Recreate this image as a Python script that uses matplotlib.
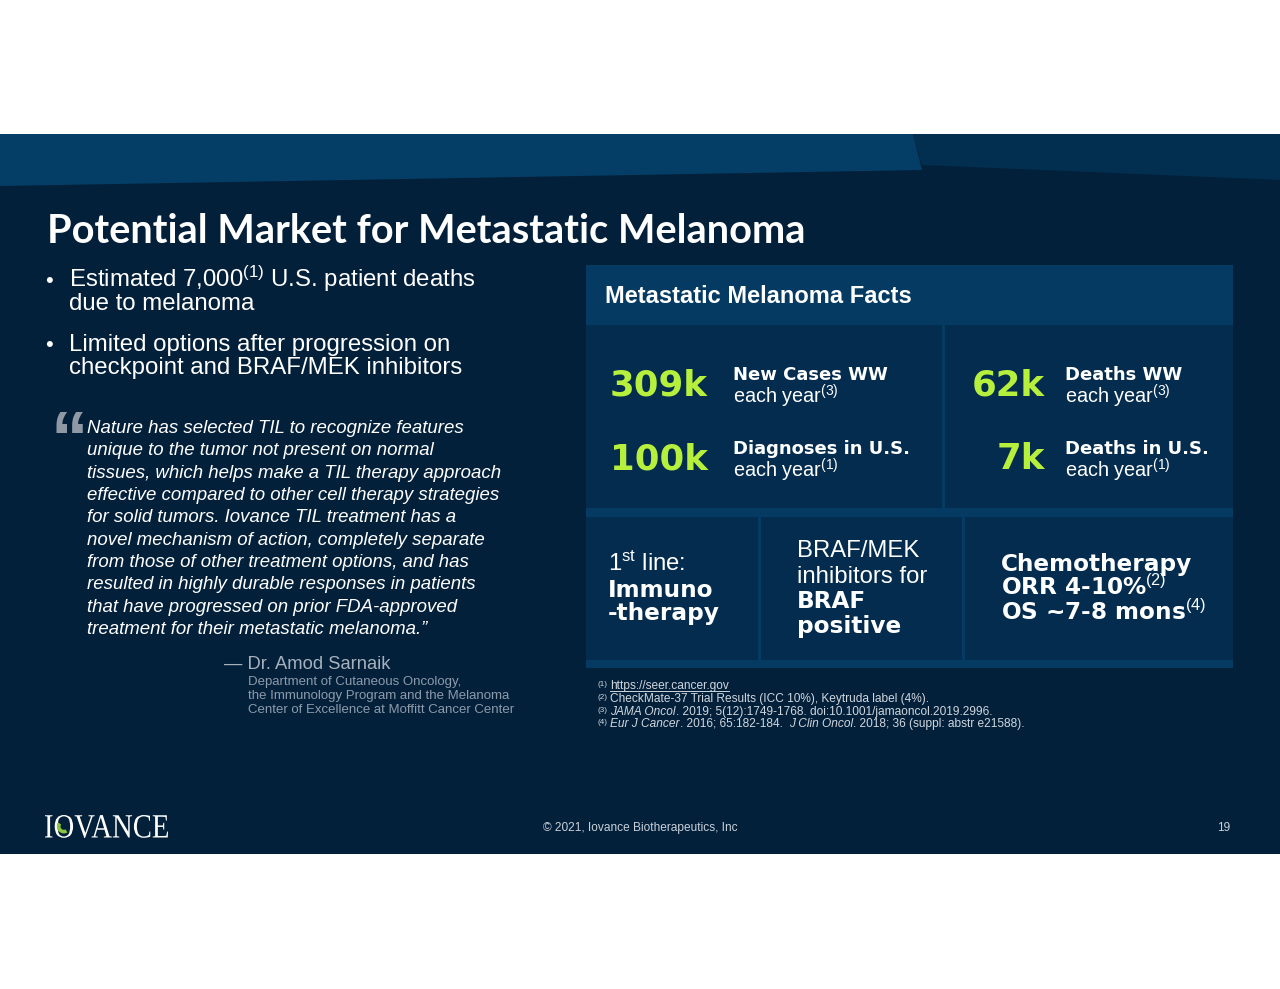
import matplotlib
matplotlib.use("Agg")
import matplotlib.pyplot as plt
from matplotlib.patches import Rectangle, Polygon, PathPatch, Wedge
from matplotlib.textpath import TextPath
from matplotlib.font_manager import FontProperties
from matplotlib.transforms import Affine2D

plt.rcParams['font.family'] = ['Liberation Sans', 'DejaVu Sans']
plt.rcParams['mathtext.fontset'] = 'custom'
plt.rcParams['mathtext.rm'] = 'Liberation Sans'
plt.rcParams['mathtext.it'] = 'Liberation Sans:italic'
plt.rcParams['mathtext.bf'] = 'Liberation Sans:bold'

# ---------------- content ----------------
title = "Potential Market for Metastatic Melanoma"
bullets = [
    ["Estimated 7,000$^{(1)}$ U.S. patient deaths", "due to melanoma"],
    ["Limited options after progression on", "checkpoint and BRAF/MEK inhibitors"],
]
quote_lines = [
    "Nature has selected TIL to recognize features",
    "unique to the tumor not present on normal",
    "tissues, which helps make a TIL therapy approach",
    "effective compared to other cell therapy strategies",
    "for solid tumors. Iovance TIL treatment has a",
    "novel mechanism of action, completely separate",
    "from those of other treatment options, and has",
    "resulted in highly durable responses in patients",
    "that have progressed on prior FDA-approved",
    "treatment for their metastatic melanoma.\u201d",
]
quote_author = "\u2014 Dr. Amod Sarnaik"
author_affil = [
    "Department of Cutaneous Oncology,",
    "the Immunology Program and the Melanoma",
    "Center of Excellence at Moffitt Cancer Center",
]
panel_title = "Metastatic Melanoma Facts"
stat_values = ["309k", "62k", "100k", "7k"]
stat_titles = ["New Cases WW", "Deaths WW", "Diagnoses in U.S.", "Deaths in U.S."]
stat_refs = ["(3)", "(3)", "(1)", "(1)"]
box_lines = [
    [("1$^{\\mathregular{st}}$ line:", "normal"), ("Immuno", "bold"), ("-therapy", "bold")],
    [("BRAF/MEK", "normal"), ("inhibitors for", "normal"), ("BRAF", "bold"), ("positive", "bold")],
    [("Chemotherapy", "bold"), ("ORR 4-10%$^{(2)}$", "bold"), ("OS ~7-8 mons$^{(4)}$", "bold")],
]
footnote_marks = ["(1)", "(2)", "(3)", "(4)"]
# each footnote is a list of (text, style) runs
footnotes = [
    [("https://seer.cancer.gov", "normal")],
    [("CheckMate-37 Trial Results (ICC 10%), Keytruda label (4%).", "normal")],
    [("JAMA Oncol", "italic"), (". 2019; 5(12):1749-1768. doi:10.1001/jamaoncol.2019.2996.", "normal")],
    [("Eur J Cancer", "italic"), (". 2016; 65:182-184.  ", "normal"), ("J Clin Oncol", "italic"),
     (". 2018; 36 (suppl: abstr e21588).", "normal")],
]
copyright_text = "\u00a9 2021, Iovance Biotherapeutics, Inc"
page_no = "19"
logo_text = "IOVANCE"

# ---------------- colours ----------------
BG = "#03203A"
BAND_L = "#043E66"
BAND_R = "#022E50"
PANEL = "#053B62"
BOX = "#032C4F"
GREEN = "#B6F03C"
WHITE = "#FFFFFF"
FOOT = "#D0D7DE"

fig = plt.figure(figsize=(12.8, 9.89), dpi=100, facecolor="white")
ax = fig.add_axes([0, 0, 1, 1])
ax.set_xlim(0, 1280)
ax.set_ylim(989, 0)
ax.axis("off")
renderer = fig.canvas.get_renderer()

# slide background
ax.add_patch(Rectangle((0, 134), 1280, 720, fc=BG, ec="none"))
ax.add_patch(Polygon([(913, 134), (1280, 134), (1280, 180), (922, 165)], fc=BAND_R, ec="none"))
ax.add_patch(Polygon([(0, 134), (913, 134), (922, 170), (0, 186)], fc=BAND_L, ec="none"))

# title
ax.text(47, 243, title, fontsize=28.6, fontweight="bold", family=["Lato", "DejaVu Sans"],
        color=WHITE, va="baseline")

# bullets
bullet_base = [287, 351]
for b, lines in zip(bullet_base, bullets):
    ax.text(45, b, "\u2022", fontsize=16, color=WHITE, va="baseline")
    for i, ln in enumerate(lines):
        ax.text(69, b + 23 * i, ln, fontsize=17.3, color=WHITE, va="baseline")

# quote
ax.text(50, 463, "\u201c", fontsize=54, fontweight="bold", color="#8E99A5", va="baseline")
for i, ln in enumerate(quote_lines):
    ax.text(87, 433 + 22.33 * i, ln, fontsize=13.4, style="italic", color=WHITE, va="baseline")
ax.text(224, 669, quote_author, fontsize=13.2, color="#A7B1BD", va="baseline")
for i, ln in enumerate(author_affil):
    ax.text(248, 685 + 14 * i, ln, fontsize=9.5, color="#8D9BAB", va="baseline")

# panel
ax.add_patch(Rectangle((586, 265), 647, 403, fc=PANEL, ec="none"))
ax.add_patch(Rectangle((586, 325), 356, 183, fc=BOX, ec="none"))
ax.add_patch(Rectangle((945, 325), 288, 183, fc=BOX, ec="none"))
for x0, w in [(586, 172), (761, 201), (965, 268)]:
    ax.add_patch(Rectangle((x0, 517), w, 143, fc=BOX, ec="none"))
ax.text(605, 303, panel_title, fontsize=17, fontweight="bold", color=WHITE, va="baseline")

val_right = [708, 1045, 708, 1045]
lab_x = [733, 1065, 733, 1065]
val_base = [395, 395, 469, 469]
for v, t, r, vx, lx, vb in zip(stat_values, stat_titles, stat_refs, val_right, lab_x, val_base):
    ax.text(vx, vb, v, fontsize=25.6, fontweight="bold", family="DejaVu Sans",
            color=GREEN, ha="right", va="baseline")
    ax.text(lx, vb - 15, t, fontsize=13, fontweight="bold", family="DejaVu Sans",
            color=WHITE, va="baseline")
    ax.text(lx, vb + 8, "each year$^{%s}$" % r, fontsize=14.3, color=WHITE, va="baseline")

box_x = [608, 797, 1001]
box_bases = [[571, 597, 620], [557, 583, 608, 633], [571, 595, 620]]
for bx, lines, bases in zip(box_x, box_lines, box_bases):
    for (s, w), yb in zip(lines, bases):
        if w == "bold":
            ax.text(bx, yb, s, fontsize=16.7, fontweight="bold", family="DejaVu Sans",
                    color=WHITE, va="baseline")
        else:
            ax.text(bx, yb, s, fontsize=17.2, color=WHITE, va="baseline")

# footnotes
fn_base = [689, 702, 715, 727]
for m, runs, yb in zip(footnote_marks, footnotes, fn_base):
    ax.text(597, yb - 3, m, fontsize=5.8, color=FOOT, va="baseline")
    x = 610.0
    for s, st in runs:
        t = ax.text(x, yb, s, fontsize=8.6, style=st, color=FOOT, va="baseline")
        w = t.get_window_extent(renderer=renderer).width
        if s.startswith("http"):
            ax.plot([x, x + w], [yb + 1.8, yb + 1.8], color=FOOT, lw=0.7)
        x += w

# footer
ax.text(640, 831, copyright_text, fontsize=8.6, color="#C9D1DA", ha="center", va="baseline")
ax.text(1230, 831, page_no, fontsize=8.6, color="#C9D1DA", ha="right", va="baseline")

fp = FontProperties(family="Liberation Serif")
tp = TextPath((0, 0), logo_text, size=100, prop=fp)
ext = tp.get_extents()
tr = Affine2D().translate(-ext.x0, -ext.y0).scale(123 / ext.width, -23 / ext.height).translate(45, 838)
ax.add_patch(PathPatch(tr.transform_path(tp), fc=WHITE, ec="none"))
# centre of the "O" glyph for the green crescent
e_io = TextPath((0, 0), logo_text[:2], size=100, prop=fp).get_extents()
e_o = TextPath((0, 0), logo_text[1], size=100, prop=fp).get_extents()
o_origin = e_io.x1 - e_o.x1
oc = tr.transform((o_origin + (e_o.x0 + e_o.x1) / 2, (e_o.y0 + e_o.y1) / 2))
ax.add_patch(Wedge((oc[0], oc[1]), 7.0, 60, 215, width=3.6, fc="#8CC63F", ec="none"))

fig.savefig("out.png", dpi=100, facecolor="white")
